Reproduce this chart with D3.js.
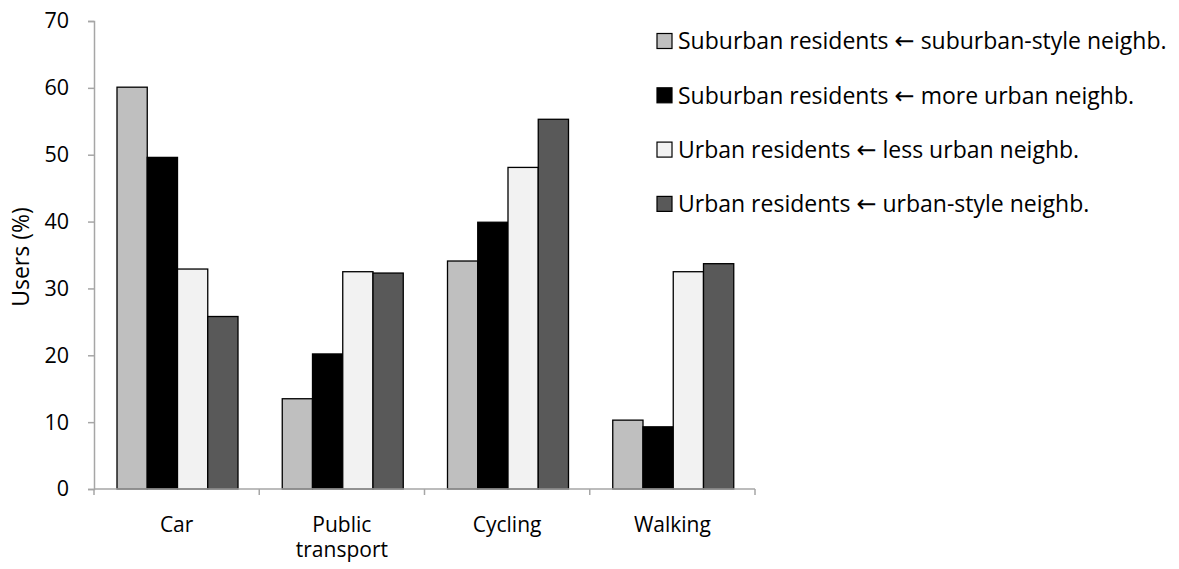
<!DOCTYPE html>
<meta charset="utf-8">
<script src="https://d3js.org/d3.v7.min.js"></script>
<style>
  body { margin: 0; background: #fff; }
  text { font-family: "Open Sans", sans-serif; fill: #000; }
  .arrow { font-family: "DejaVu Sans", sans-serif; }
</style>
<div id="chart"></div>
<script>
// data
var categories = ["Car", "Public transport", "Cycling", "Walking"];
var categoryLines = [["Car"], ["Public", "transport"], ["Cycling"], ["Walking"]];
var seriesFrom = ["Suburban residents", "Suburban residents", "Urban residents", "Urban residents"];
var seriesTo = ["suburban-style neighb.", "more urban neighb.", "less urban neighb.", "urban-style neighb."];
var seriesColors = ["#bfbfbf", "#000000", "#f2f2f2", "#595959"];
var suburbanSuburban = [60.1, 13.5, 34.1, 10.3];
var suburbanUrban = [49.6, 20.2, 39.9, 9.3];
var urbanLessUrban = [32.9, 32.5, 48.1, 32.5];
var urbanUrban = [25.8, 32.3, 55.3, 33.7];
var yTicks = [0, 10, 20, 30, 40, 50, 60, 70];

var series = [suburbanSuburban, suburbanUrban, urbanLessUrban, urbanUrban];

var W = 1179, H = 569;
var margin = {top: 21, left: 94},
    width = 661, height = 468;

var svg = d3.select("#chart").append("svg")
  .attr("width", W).attr("height", H);
var g = svg.append("g")
  .attr("transform", "translate(" + margin.left + "," + margin.top + ")");

var x0 = d3.scaleBand().domain(categories).range([0, width]).padding(0);
var x1 = d3.scaleBand().domain(d3.range(series.length))
  .range([23, 144]).padding(0);
var y = d3.scaleLinear().domain([0, 70]).range([height, 0]);

var axisColor = "#a6a6a6";

// bars
var groups = g.selectAll(".grp").data(categories).enter().append("g")
  .attr("transform", function(d) { return "translate(" + x0(d) + ",0)"; });
groups.selectAll("rect")
  .data(function(d, i) { return series.map(function(s, k) { return {k: k, v: s[i]}; }); })
  .enter().append("rect")
  .attr("x", function(d) { return x1(d.k); })
  .attr("y", function(d) { return y(d.v); })
  .attr("width", x1.bandwidth())
  .attr("height", function(d) { return height - y(d.v); })
  .attr("fill", function(d) { return seriesColors[d.k]; })
  .attr("stroke", "#000")
  .attr("stroke-width", 1.3);

// y axis
var yAxis = g.append("g")
  .call(d3.axisLeft(y).tickValues(yTicks).tickSize(6).tickPadding(19));
yAxis.select(".domain").attr("stroke", axisColor).attr("stroke-width", 1.5);
yAxis.selectAll(".tick line").attr("stroke", axisColor).attr("stroke-width", 1.5);
yAxis.selectAll("text").style("font-size", "21.5px").attr("fill", "#000");

// x axis
var xAxis = g.append("g").attr("transform", "translate(0," + height + ")");
xAxis.append("line").attr("x1", 0).attr("x2", width)
  .attr("stroke", axisColor).attr("stroke-width", 1.5);
xAxis.selectAll(".xt").data(d3.range(categories.length + 1)).enter().append("line")
  .attr("x1", function(i) { return i * x0.step(); })
  .attr("x2", function(i) { return i * x0.step(); })
  .attr("y1", 0).attr("y2", 6)
  .attr("stroke", axisColor).attr("stroke-width", 1.5);
xAxis.selectAll(".xl").data(categoryLines).enter().append("text")
  .attr("x", function(d, i) { return x0(categories[i]) + x0.bandwidth() / 2; })
  .attr("y", 43)
  .attr("text-anchor", "middle")
  .style("font-size", "21px")
  .each(function(lines) {
    var t = d3.select(this);
    lines.forEach(function(l, j) {
      t.append("tspan").attr("x", t.attr("x")).attr("dy", j ? 25 : 0).text(l);
    });
  });

// y title
svg.append("text")
  .attr("transform", "translate(29," + (margin.top + height / 2 + 2) + ") rotate(-90)")
  .attr("text-anchor", "middle")
  .style("font-size", "23px")
  .text("Users (%)");

// legend
var legend = svg.append("g").attr("transform", "translate(657,41)");
var li = legend.selectAll("g").data(seriesFrom).enter().append("g")
  .attr("transform", function(d, i) { return "translate(0," + i * 54.3 + ")"; });
li.append("rect").attr("y", -7.5).attr("width", 15).attr("height", 15)
  .attr("fill", function(d, i) { return seriesColors[i]; })
  .attr("stroke", "#000").attr("stroke-width", 1.2);
var lt = li.append("text").attr("x", 21).attr("y", 0).attr("dy", "0.36em")
  .style("font-size", "23px");
lt.append("tspan").text(function(d) { return d + " "; });
lt.append("tspan").attr("class", "arrow").style("font-size", "24px").text("\u2190");
lt.append("tspan").text(function(d, i) { return " " + seriesTo[i]; });
</script>
